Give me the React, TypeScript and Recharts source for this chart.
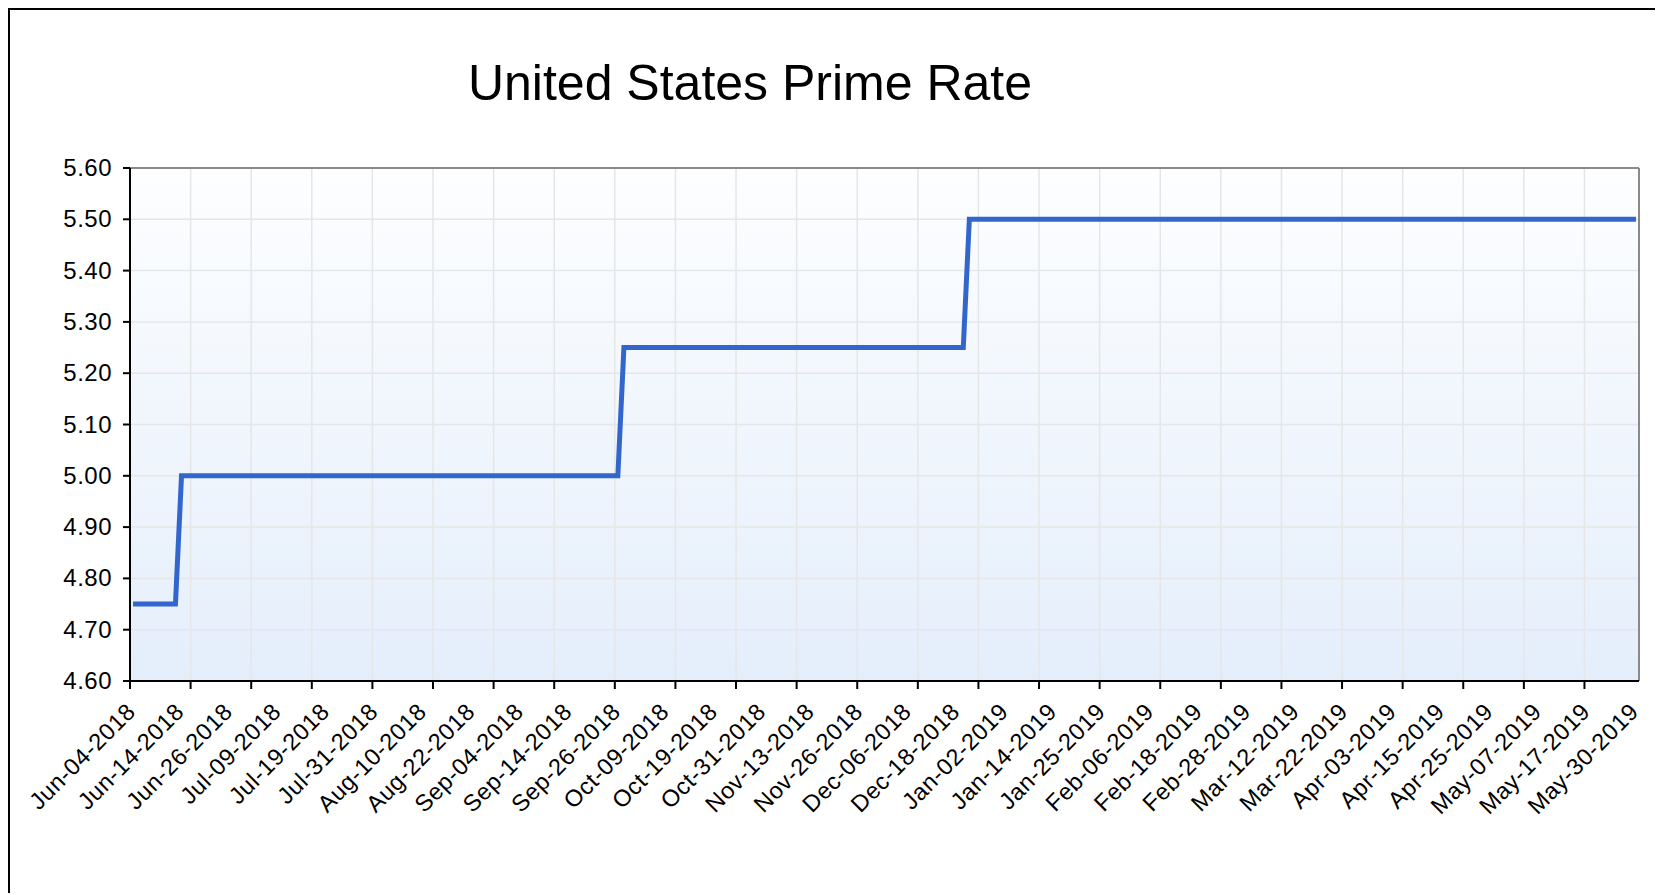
import React from 'react';
import { LineChart, Line, XAxis, YAxis, CartesianGrid, ReferenceLine } from 'recharts';

// x-axis labels, one every 8th business day (day index 0, 8, 16 ... 248)
const dateLabels = [
  'Jun-04-2018', 'Jun-14-2018', 'Jun-26-2018', 'Jul-09-2018', 'Jul-19-2018', 'Jul-31-2018',
  'Aug-10-2018', 'Aug-22-2018', 'Sep-04-2018', 'Sep-14-2018', 'Sep-26-2018', 'Oct-09-2018',
  'Oct-19-2018', 'Oct-31-2018', 'Nov-13-2018', 'Nov-26-2018', 'Dec-06-2018', 'Dec-18-2018',
  'Jan-02-2019', 'Jan-14-2019', 'Jan-25-2019', 'Feb-06-2019', 'Feb-18-2019', 'Feb-28-2019',
  'Mar-12-2019', 'Mar-22-2019', 'Apr-03-2019', 'Apr-15-2019', 'Apr-25-2019', 'May-07-2019',
  'May-17-2019', 'May-30-2019',
];

// corners of the stepped rate line (business-day index, rate in %)
const stepDays = [0, 7, 8, 80, 81, 137, 138, 248];
const stepRates = [4.75, 4.75, 5.0, 5.0, 5.25, 5.25, 5.5, 5.5];

const rateTicks = [4.6, 4.7, 4.8, 4.9, 5.0, 5.1, 5.2, 5.3, 5.4, 5.5, 5.6];

const data = stepDays.map((day, i) => ({ day, rate: stepRates[i] }));

// tick marks / vertical grid every 10 business days, on the day boundaries
const gridTicks = Array.from({ length: 25 }, (_, k) => k * 10 - 0.5);
const labelTicks = dateLabels.map((_, k) => k * 8);

const FONT = '"Liberation Sans", Arial, Helvetica, sans-serif';

const DateTick = ({ x, y, payload }: any) => {
  const idx = labelTicks.indexOf(payload.value);
  const tx = x + 4;
  const ty = y + 31;
  return (
    <text
      x={tx}
      y={ty}
      transform={`rotate(-45 ${tx} ${ty})`}
      textAnchor="end"
      fontSize={23.5}
      fontFamily={FONT}
      fill="#000"
      style={{ letterSpacing: '0.6px' }}
    >
      {dateLabels[idx]}
    </text>
  );
};

const RateTick = ({ x, y, payload }: any) => (
  <text
    x={x}
    y={y}
    dy={8}
    textAnchor="end"
    fontSize={24}
    fontFamily={FONT}
    fill="#000"
    style={{ letterSpacing: '0.5px' }}
  >
    {Number(payload.value).toFixed(2)}
  </text>
);

const App: React.FC = () => {
  return (
    <div
      style={{
        position: 'relative',
        width: 1653,
        height: 885,
        borderTop: '2px solid #000',
        borderLeft: '2px solid #000',
        boxSizing: 'border-box',
        overflow: 'hidden',
        fontFamily: FONT,
      }}
    >
      <div
        style={{
          position: 'absolute',
          left: 340,
          top: 48,
          width: 800,
          textAlign: 'center',
          fontSize: 50,
          lineHeight: '50px',
          color: '#000',
        }}
      >
        United States Prime Rate
      </div>

      <LineChart
        width={1640}
        height={870}
        data={data}
        margin={{ top: 158, right: 11, left: 0, bottom: 197 }}
      >
        <defs>
          <linearGradient id="plotBg" x1="0" y1="0" x2="0" y2="1">
            <stop offset="0%" stopColor="#fdfeff" />
            <stop offset="100%" stopColor="#e4eefb" />
          </linearGradient>
        </defs>
        <CartesianGrid
          xAxisId="grid"
          stroke="#e6e6e6"
          strokeWidth={1.5}
          fill="url(#plotBg)"
          fillOpacity={1}
        />
        <XAxis
          xAxisId="grid"
          dataKey="day"
          type="number"
          domain={[-0.5, 248.5]}
          ticks={gridTicks}
          interval={0}
          height={1}
          tickSize={8}
          tickFormatter={() => ''}
          axisLine={{ stroke: '#000', strokeWidth: 2 }}
          tickLine={{ stroke: '#000', strokeWidth: 2 }}
        />
        <XAxis
          xAxisId="labels"
          dataKey="day"
          type="number"
          domain={[-0.5, 248.5]}
          ticks={labelTicks}
          interval={0}
          height={1}
          tickSize={0}
          tickMargin={0}
          axisLine={false}
          tickLine={false}
          tick={<DateTick />}
        />
        <YAxis
          type="number"
          domain={[4.6, 5.6]}
          ticks={rateTicks}
          interval={0}
          width={120}
          tickSize={7}
          tickMargin={11}
          axisLine={{ stroke: '#000', strokeWidth: 2 }}
          tickLine={{ stroke: '#000', strokeWidth: 2 }}
          tick={<RateTick />}
        />
        <ReferenceLine xAxisId="grid" y={5.6} stroke="#8a8a8a" strokeWidth={2} />
        <ReferenceLine xAxisId="grid" x={248.5} stroke="#8a8a8a" strokeWidth={2} />
        <Line
          xAxisId="grid"
          type="linear"
          dataKey="rate"
          stroke="#3366cc"
          strokeWidth={5}
          dot={false}
          activeDot={false}
          isAnimationActive={false}
        />
      </LineChart>
    </div>
  );
};

export default App;
